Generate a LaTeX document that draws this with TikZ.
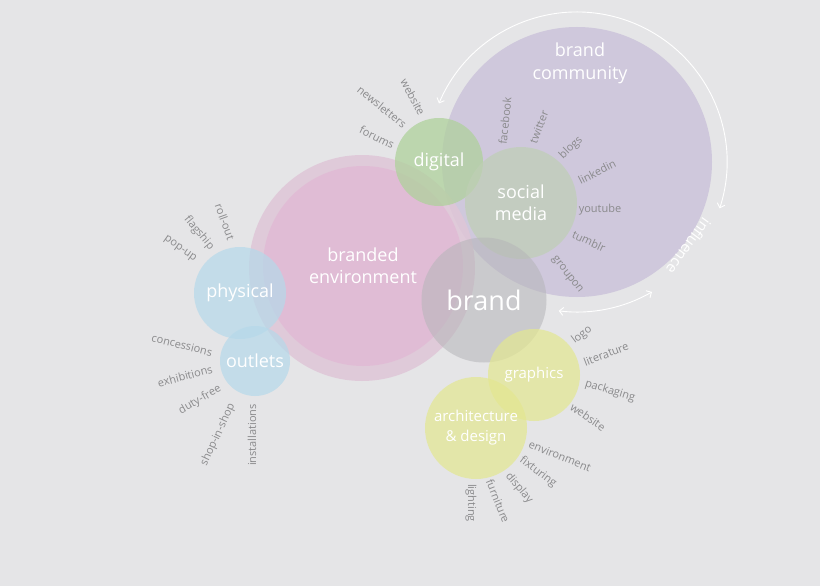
\documentclass[tikz,border=0pt]{standalone}
\usepackage{fontspec}
\setmainfont{Open Sans}
\usetikzlibrary{arrows.meta,calc}

\definecolor{bg}{HTML}{E5E5E7}
\definecolor{communityc}{HTML}{CFC8DC}
\definecolor{rimc}{HTML}{DFC6D7}
\definecolor{brandedc}{HTML}{E1BBD5}
\definecolor{bluec}{HTML}{B5D9EA}
\definecolor{digitalc}{HTML}{AFD19C}
\definecolor{socialc}{HTML}{BFCFB5}
\definecolor{brandc}{HTML}{B5B5B8}
\definecolor{yellowc}{HTML}{E3E790}
\definecolor{tagc}{HTML}{8A8A8C}

\begin{document}
\begin{tikzpicture}[
  x=1pt, y=-1pt,
  >={Straight Barb[length=4pt,width=8pt]},
  bubble/.style={circle, inner sep=0pt, align=center, text=white, text opacity=1,
                 font=\fontsize{18}{22}\selectfont},
  title/.style={align=center, text=white, font=\fontsize{18}{23}\selectfont},
  small/.style={font=\fontsize{15}{20}\selectfont},
  tag/.style={text=tagc, inner sep=0pt, font=\fontsize{11}{13}\selectfont},
  flow/.style={draw=white, line width=0.9pt, <->}
]

\useasboundingbox (0,0) rectangle (820,586);
\fill[bg] (0,0) rectangle (820,586);

% Circles
\node[bubble, fill=communityc, minimum size=270pt] (community) at (577,162) {};
\node[title] (communitytext) at (580,63) {brand\\community};
\node[bubble, fill=rimc, fill opacity=0.85, minimum size=226pt] (brandedrim) at (362,268) {};
\node[bubble, fill=brandedc, fill opacity=0.9, minimum size=200pt] (branded) at (363,266)
  {branded\\environment};
\node[bubble, fill=bluec, fill opacity=0.7, minimum size=92pt] (physical) at (240,293) {physical};
\node[bubble, fill=bluec, fill opacity=0.7, minimum size=70pt] (outlets) at (255,361) {outlets};
\node[bubble, fill=digitalc, fill opacity=0.75, minimum size=88pt] (digital) at (439,162) {digital};
\node[bubble, fill=socialc, fill opacity=0.7, minimum size=112pt] (social) at (521,203) {social\\media};
\node[bubble, fill=brandc, fill opacity=0.55, minimum size=125pt,
      font=\fontsize{27}{30}\selectfont] (brand) at (484,300) {brand};
\node[bubble, small, fill=yellowc, fill opacity=0.7, minimum size=92pt] (graphics) at (534,375) {graphics};
\node[bubble, small, fill=yellowc, fill opacity=0.7, minimum size=102pt] (archi) at (476,428)
  {architecture\\\& design};

% Influence arrows round the community
\coordinate (inftop) at ($(community.center)+(-157:150)$);
\coordinate (infbottom) at ($(community.center)+(60:150)$);
\draw[flow] (inftop) arc[start angle=-157, end angle=18, radius=150];
\draw[flow] (infbottom) arc[start angle=60, end angle=97, radius=150];
\node[text=white, rotate=-126, font=\fontsize{15}{18}\selectfont] (influence)
  at ($(community.center)+(37:140)$) {influence};

% Digital channels
\node[tag, rotate=-62] (webdigital) at (413,97) {website};
\node[tag, rotate=-39] (newsletters) at (382,107) {newsletters};
\node[tag, rotate=-26] (forums) at (377,137) {forums};

% Social media channels
\node[tag, rotate=84] (facebook) at (505,121) {facebook};
\node[tag, rotate=69] (twitter) at (539,127) {twitter};
\node[tag, rotate=44] (blogs) at (571,148) {blogs};
\node[tag, rotate=27] (linkedin) at (597,172) {linkedin};
\node[tag] (youtube) at (600,210) {youtube};
\node[tag, rotate=-25] (tumblr) at (589,241) {tumblr};
\node[tag, rotate=-52] (groupon) at (567,275) {groupon};

% Physical
\node[tag, rotate=-70] (rollout) at (225,222) {roll-out};
\node[tag, rotate=-50] (flagship) at (199,233) {flagship};
\node[tag, rotate=-35] (popup) at (180,249) {pop-up};

% Outlets
\node[tag, rotate=-14] (concessions) at (182,345) {concessions};
\node[tag, rotate=15] (exhibitions) at (185,376) {exhibitions};
\node[tag, rotate=30] (dutyfree) at (200,400) {duty-free};
\node[tag, rotate=65] (shopinshop) at (218,435) {shop-in-shop};
\node[tag, rotate=90] (installations) at (252,435) {installations};

% Graphics
\node[tag, rotate=37] (logo) at (582,335) {logo};
\node[tag, rotate=21] (literature) at (606,354) {literature};
\node[tag, rotate=-17] (packaging) at (610,391) {packaging};
\node[tag, rotate=-35] (webgraphics) at (588,417) {website};

% Architecture & design
\node[tag, rotate=-22] (environment) at (560,456) {environment};
\node[tag, rotate=-37] (fixturing) at (538,472) {fixturing};
\node[tag, rotate=-50] (display) at (519,488) {display};
\node[tag, rotate=-68] (furniture) at (498,501) {furniture};
\node[tag, rotate=-90] (lighting) at (471,503) {lighting};

\end{tikzpicture}
\end{document}
